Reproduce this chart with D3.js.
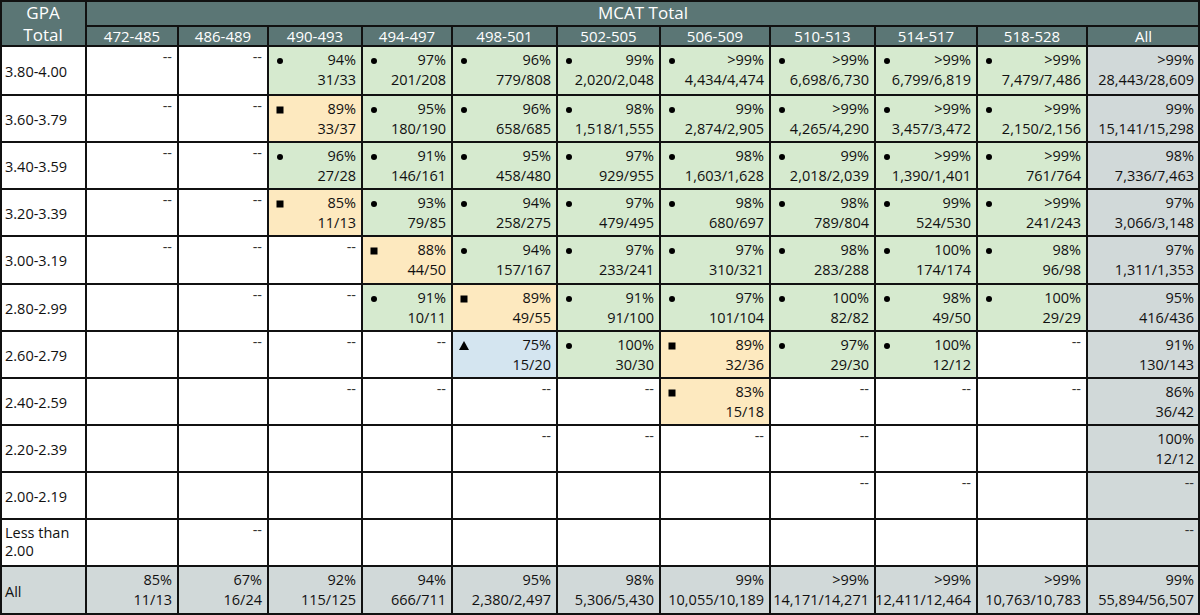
<!DOCTYPE html>
<html><head><meta charset="utf-8">
<script src="https://cdn.jsdelivr.net/npm/d3@7"></script>
<style>body{margin:0;background:#fff}text{font-family:"Open Sans","Noto Sans",sans-serif}</style>
</head><body><svg id="c" width="1200" height="615"></svg>
<script>
const mcatBins = ["472-485","486-489","490-493","494-497","498-501","502-505","506-509","510-513","514-517","518-528","All"];
const gpaBins = ["3.80-4.00","3.60-3.79","3.40-3.59","3.20-3.39","3.00-3.19","2.80-2.99","2.60-2.79","2.40-2.59","2.20-2.39","2.00-2.19","Less than\n2.00","All"];
// cell: "" empty, "--", or "marker|pct|frac" (c circle, s square, t triangle, a all)
const r380 = ["--","--","c|94%|31/33","c|97%|201/208","c|96%|779/808","c|99%|2,020/2,048","c|>99%|4,434/4,474","c|>99%|6,698/6,730","c|>99%|6,799/6,819","c|>99%|7,479/7,486","a|>99%|28,443/28,609"];
const r360 = ["--","--","s|89%|33/37","c|95%|180/190","c|96%|658/685","c|98%|1,518/1,555","c|99%|2,874/2,905","c|>99%|4,265/4,290","c|>99%|3,457/3,472","c|>99%|2,150/2,156","a|99%|15,141/15,298"];
const r340 = ["--","--","c|96%|27/28","c|91%|146/161","c|95%|458/480","c|97%|929/955","c|98%|1,603/1,628","c|99%|2,018/2,039","c|>99%|1,390/1,401","c|>99%|761/764","a|98%|7,336/7,463"];
const r320 = ["--","--","s|85%|11/13","c|93%|79/85","c|94%|258/275","c|97%|479/495","c|98%|680/697","c|98%|789/804","c|99%|524/530","c|>99%|241/243","a|97%|3,066/3,148"];
const r300 = ["--","--","--","s|88%|44/50","c|94%|157/167","c|97%|233/241","c|97%|310/321","c|98%|283/288","c|100%|174/174","c|98%|96/98","a|97%|1,311/1,353"];
const r280 = ["","--","--","c|91%|10/11","s|89%|49/55","c|91%|91/100","c|97%|101/104","c|100%|82/82","c|98%|49/50","c|100%|29/29","a|95%|416/436"];
const r260 = ["","--","--","--","t|75%|15/20","c|100%|30/30","s|89%|32/36","c|97%|29/30","c|100%|12/12","--","a|91%|130/143"];
const r240 = ["","","--","--","--","--","s|83%|15/18","--","--","--","a|86%|36/42"];
const r220 = ["","","","","--","--","--","--","","","a|100%|12/12"];
const r200 = ["","","","","","","","--","--","","a--"];
const rlt2 = ["","--","","","","","","","","","a--"];
const rAll = ["a|85%|11/13","a|67%|16/24","a|92%|115/125","a|94%|666/711","a|95%|2,380/2,497","a|98%|5,306/5,430","a|99%|10,055/10,189","a|>99%|14,171/14,271","a|>99%|12,411/12,464","a|>99%|10,763/10,783","a|99%|55,894/56,507"];
const rows = [r380,r360,r340,r320,r300,r280,r260,r240,r220,r200,rlt2,rAll];

const colEdges = [0,86,178,268,362,452,557,660,770,875,977,1087,1200];
const rowEdges = [46,95,142,189,236,284,331,378,425,472,519,566,615];
const fill = {c:"#d6eacf", s:"#fde9bf", t:"#d4e5f0", a:"#d1d9d9", "":"#fff"};
const hdr = "#5b7675";
const FS = 14.5;
const svg = d3.select("#c");
const x = i => colEdges[i], y = i => rowEdges[i];

svg.append("rect").attr("x",0).attr("y",0).attr("width",1200).attr("height",46).attr("fill",hdr);
svg.append("text").attr("x",43).attr("y",19).attr("text-anchor","middle").attr("fill","#fff").attr("font-size",17).text("GPA");
svg.append("text").attr("x",43).attr("y",41).attr("text-anchor","middle").attr("fill","#fff").attr("font-size",17).text("Total");
svg.append("text").attr("x",(86+1200)/2).attr("y",19).attr("text-anchor","middle").attr("fill","#fff").attr("font-size",17).text("MCAT Total");
svg.selectAll(".mh").data(mcatBins).join("text").attr("x",(d,i)=>(x(i+1)+x(i+2))/2).attr("y",42)
  .attr("text-anchor","middle").attr("fill","#fff").attr("font-size",15).text(d=>d);

rows.forEach((row,ri)=>{
  const isAll = ri===rows.length-1;
  svg.append("rect").attr("x",0).attr("y",y(ri)).attr("width",86).attr("height",y(ri+1)-y(ri)).attr("fill",isAll?fill.a:"#fff");
  const lines = gpaBins[ri].split("\n");
  lines.forEach((l,li)=>svg.append("text").attr("x",5).attr("y",lines.length>1? y(ri)+19+li*18 : (y(ri)+y(ri+1))/2+6).attr("font-size",FS).attr("fill","#111").text(l));
  row.forEach((cell,ci)=>{
    const x0=x(ci+1), x1=x(ci+2), y0=y(ri), y1=y(ri+1);
    let mk = "", pct=null, frac=null, dash=false;
    if(cell==="--") dash=true;
    else if(cell==="a--"){mk="a";dash=true;}
    else if(cell){const p=cell.split("|");mk=p[0];pct=p[1];frac=p[2];}
    svg.append("rect").attr("x",x0).attr("y",y0).attr("width",x1-x0).attr("height",y1-y0).attr("fill",fill[mk]);
    if(dash) svg.append("text").attr("x",x1-6).attr("y",y0+16).attr("text-anchor","end").attr("font-size",FS).attr("fill","#333").text("--");
    if(pct){
      svg.append("text").attr("x",x1-6).attr("y",y0+19).attr("text-anchor","end").attr("font-size",FS).attr("fill","#111").text(pct);
      svg.append("text").attr("x",x1-6).attr("y",y0+39).attr("text-anchor","end").attr("font-size",FS).attr("fill","#111").text(frac);
      const mx=x0+12, my=y0+15;
      if(mk==="c") svg.append("circle").attr("cx",mx).attr("cy",my).attr("r",3).attr("fill","#000");
      if(mk==="s") svg.append("rect").attr("x",mx-3.5).attr("y",my-3.5).attr("width",7).attr("height",7).attr("fill","#000");
      if(mk==="t") svg.append("path").attr("d",`M${mx},${my-5}L${mx+5},${my+4}L${mx-5},${my+4}Z`).attr("fill","#000");
    }
  });
});
const g = svg.append("g").attr("stroke","#111").attr("stroke-width",2);
colEdges.slice(1,-1).forEach((c,i)=>g.append("line").attr("x1",c).attr("x2",c).attr("y1",i===0?0:26).attr("y2",615));
rowEdges.forEach(r=>g.append("line").attr("x1",0).attr("x2",1200).attr("y1",r).attr("y2",r));
g.append("line").attr("x1",86).attr("x2",1200).attr("y1",26).attr("y2",26);
svg.append("rect").attr("x",1).attr("y",1).attr("width",1198).attr("height",613).attr("fill","none").attr("stroke","#111").attr("stroke-width",2);
</script></body></html>
